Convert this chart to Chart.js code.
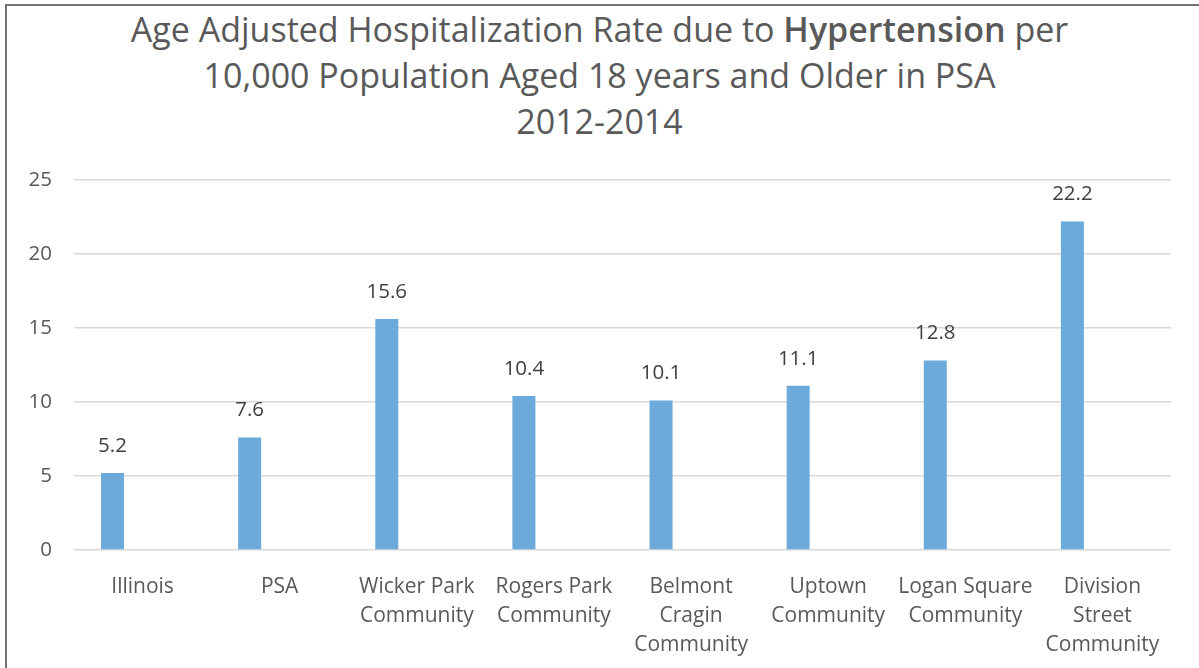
<!DOCTYPE html>
<html>
<head>
<meta charset="utf-8">
<script src="https://cdn.jsdelivr.net/npm/chart.js@4/dist/chart.umd.min.js"></script>
<style>
  body { margin: 0; background: #fff; }
  #wrap { position: relative; width: 1199px; height: 668px; overflow: hidden; }
  #frame { position: absolute; left: 5px; top: 4px; right: 0; bottom: 0;
           border-top: 2px solid #727272; border-left: 2px solid #727272; }
  #title { position: absolute; left: 0; top: 6px; width: 1199px; text-align: center;
           font-family: "Open Sans", sans-serif; font-size: 34px; line-height: 46px; color: #595959; }
  #title b { font-weight: 600; }
  canvas { position: absolute; left: 0; top: 0; }
</style>
</head>
<body>
<div id="wrap">
  <div id="frame"></div>
  <div id="title">Age Adjusted Hospitalization Rate due to <b>Hypertension</b> per<br>10,000 Population Aged 18 years and Older in PSA<br>2012-2014</div>
  <canvas id="myChart" width="1199" height="668"></canvas>
</div>
<script>
var categories = ["Illinois", "PSA", ["Wicker Park", "Community"], ["Rogers Park", "Community"],
    ["Belmont", "Cragin", "Community"], ["Uptown", "Community"], ["Logan Square", "Community"],
    ["Division", "Street", "Community"]];
var rates = [5.2, 7.6, 15.6, 10.4, 10.1, 11.1, 12.8, 22.2];
// empty second series, keeps the bars left of the category centre like the original
var blank = [null, null, null, null, null, null, null, null];
var yTicks = [0, 5, 10, 15, 20, 25];

var valueLabels = {
    id: 'valueLabels',
    afterDatasetsDraw: function (chart) {
        var ctx = chart.ctx;
        var meta = chart.getDatasetMeta(0);
        ctx.save();
        ctx.font = '20.5px "Open Sans"';
        ctx.fillStyle = '#404040';
        ctx.textAlign = 'center';
        ctx.textBaseline = 'middle';
        meta.data.forEach(function (bar, i) {
            ctx.fillText(rates[i].toFixed(1), bar.x, bar.y - 27);
        });
        ctx.restore();
    }
};

function renderChart() {
    var ctx = document.getElementById("myChart").getContext('2d');
    var myChart = new Chart(ctx, {
        type: 'bar',
        data: {
            labels: categories,
            datasets: [{
                label: 'Rate',
                data: rates,
                backgroundColor: '#6BAADB',
                categoryPercentage: 0.876,
                barPercentage: 0.383
            }, {
                label: '',
                data: blank,
                backgroundColor: '#6BAADB',
                categoryPercentage: 0.876,
                barPercentage: 0.383
            }]
        },
        options: {
            responsive: false,
            animation: false,
            layout: { padding: { top: 180, right: 28, bottom: 0, left: 0 } },
            plugins: {
                legend: { display: false },
                tooltip: { enabled: false },
                title: { display: false }
            },
            scales: {
                x: {
                    afterFit: function (scale) { scale.height = 118; },
                    grid: { display: false },
                    border: { display: false },
                    ticks: {
                        color: '#595959',
                        font: { family: 'Open Sans', size: 21, lineHeight: 1.4 },
                        padding: 14,
                        maxRotation: 0,
                        autoSkip: false
                    }
                },
                y: {
                    min: 0,
                    max: 25,
                    afterBuildTicks: function (scale) {
                        scale.ticks = yTicks.map(function (v) { return { value: v }; });
                    },
                    afterFit: function (scale) { scale.width = 74; },
                    grid: { color: '#D9D9D9', lineWidth: 1.5, drawTicks: false },
                    border: { display: false },
                    ticks: {
                        color: '#595959',
                        font: { family: 'Open Sans', size: 20.5 },
                        padding: 22
                    }
                }
            }
        },
        plugins: [valueLabels]
    });
}
renderChart();
</script>
</body>
</html>
